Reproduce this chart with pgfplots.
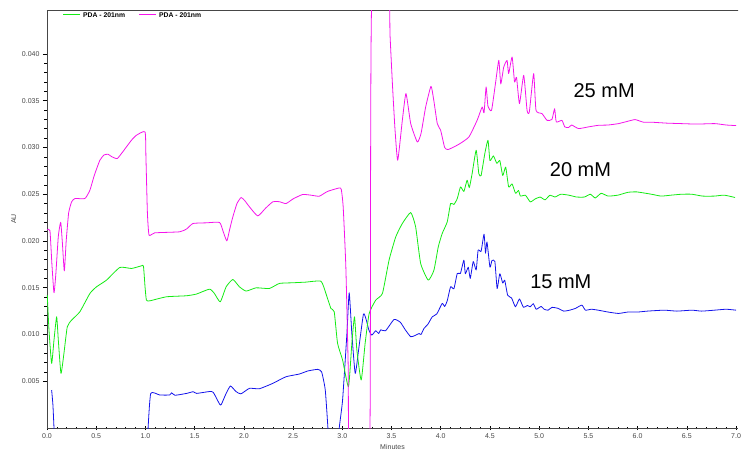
\documentclass[border=0pt]{standalone}
\usepackage{pgfplots}
\pgfplotsset{compat=1.18}
\usepackage{fontspec}
\setmainfont{Liberation Sans}

\definecolor{pdagreen}{RGB}{20,235,20}
\definecolor{pdamag}{RGB}{245,20,235}
\definecolor{pdablue}{RGB}{20,20,235}
\definecolor{axgray}{RGB}{70,70,70}

\begin{document}
\begin{tikzpicture}
\useasboundingbox (-47pt,-23pt) rectangle (698pt,428pt);
\begin{axis}[
    name=ax,
    scale only axis,
    width=691pt, height=418pt,
    at={(0,0)}, anchor=south west,
    xmin=0, xmax=7.02, ymin=0, ymax=0.0447,
    axis x line*=bottom, axis y line*=left,
    axis line style={axgray, line width=0.8pt},
    xtick={0,0.5,...,7}, ytick={0.005,0.010,...,0.0401},
    minor x tick num=4, minor y tick num=4,
    xtick align=center, ytick align=outside,
    major tick length=4pt, minor tick length=2.5pt,
    every tick/.style={black, line width=0.6pt},
    scaled y ticks=false,
    xticklabel style={/pgf/number format/.cd, fixed, fixed zerofill, precision=1},
    yticklabel style={/pgf/number format/.cd, fixed, fixed zerofill, precision=3},
    /pgf/number format/assume math mode=true,
    tick label style={font=\fontsize{7}{8}\selectfont, text=axgray},
    xlabel={Minutes}, ylabel={AU},
    label style={font=\fontsize{7}{8}\selectfont, text=axgray},
    xlabel style={yshift=1pt},
    ylabel style={yshift=-1pt},
    clip=true,
    line join=round,
    every axis plot/.append style={line width=0.8pt, smooth, tension=0.3},
]
\draw[axgray, line width=0.8pt] (rel axis cs:0,1) -- (rel axis cs:1.01,1);

% 15 mM
\addplot[pdablue] coordinates {
(0.047,0.00406) (0.06,0.0025) (0.071,0.0) (0.08,-0.003) (1.015,-0.003) (1.027,0.0)
(1.054,0.0037) (1.145,0.00353) (1.246,0.00353) (1.266,0.00377) (1.30,0.0035)
(1.418,0.0037) (1.485,0.00388) (1.52,0.0037) (1.65,0.0039) (1.69,0.0038)
(1.753,0.00256) (1.77,0.0025) (1.82,0.0037) (1.864,0.00449) (1.92,0.0039)
(1.97,0.00365) (2.057,0.00424) (2.158,0.0042) (2.293,0.00477) (2.428,0.00548)
(2.563,0.00577) (2.65,0.0061) (2.749,0.00627) (2.79,0.0060) (2.827,0.00406)
(2.854,0.0) (2.87,-0.003) (2.955,-0.003) (2.969,0.0) (3.003,0.003) (3.047,0.01012)
(3.07,0.01446) (3.097,0.0101) (3.131,0.00584) (3.165,0.0083) (3.215,0.01218)
(3.245,0.0115) (3.27,0.01047) (3.30,0.00994) (3.34,0.0104) (3.37,0.0101) (3.39,0.0105)
(3.44,0.0104) (3.526,0.01161) (3.59,0.0113) (3.64,0.0105) (3.695,0.00976)
(3.74,0.0099) (3.78,0.0101) (3.80,0.0100) (3.83,0.01065) (3.87,0.0111) (3.914,0.01189)
(3.96,0.0122) (4.015,0.01332) (4.04,0.0130) (4.066,0.0136)
(4.1,0.0151) (4.134,0.0149) (4.168,0.01653) (4.2,0.01653) (4.235,0.01795)
(4.25,0.0165) (4.28,0.0172) (4.30,0.0160) (4.33,0.0178) (4.36,0.0169)
(4.38,0.01902) (4.41,0.0189) (4.44,0.02073) (4.455,0.0187) (4.47,0.0199)
(4.50,0.0172) (4.52,0.0179) (4.55,0.0178) (4.573,0.01492) (4.60,0.0165)
(4.63,0.0155) (4.65,0.0158) (4.68,0.0142) (4.72,0.0139) (4.759,0.01296)
(4.80,0.0138) (4.84,0.0129) (4.88,0.0131) (4.91,0.01296) (4.94,0.0133) (4.97,0.0127)
(5.02,0.0130) (5.05,0.0127) (5.09,0.0126) (5.13,0.0129) (5.19,0.0128) (5.25,0.0125)
(5.31,0.0126) (5.37,0.0128) (5.434,0.01314) (5.47,0.0126) (5.53,0.0127)
(5.60,0.0126) (5.70,0.0124) (5.806,0.01225) (5.90,0.0124) (6.0,0.0124)
(6.1,0.0125) (6.27,0.0126) (6.4,0.0125) (6.55,0.0126) (6.65,0.0125)
(6.78,0.0126) (6.9,0.0127) (7.0,0.0126)
};

% 20 mM
\addplot[pdagreen] coordinates {
(0.003,0.01421) (0.02,0.0105) (0.047,0.00691) (0.071,0.0094) (0.098,0.01189)
(0.115,0.0094) (0.142,0.00584) (0.172,0.00798) (0.206,0.01082) (0.25,0.01154)
(0.334,0.01243) (0.436,0.01439) (0.503,0.0151) (0.604,0.01581) (0.740,0.01717)
(0.858,0.01706) (0.959,0.01734) (0.98,0.0173) (0.996,0.0151) (1.01,0.01368)
(1.044,0.0136) (1.213,0.01403) (1.415,0.01414) (1.517,0.01432) (1.651,0.01485)
(1.70,0.0144) (1.760,0.01349) (1.82,0.0151) (1.888,0.01588) (1.955,0.0151)
(2.023,0.01464) (2.124,0.01499) (2.259,0.01492) (2.361,0.01546) (2.496,0.01553)
(2.63,0.0156) (2.783,0.0157) (2.833,0.0144) (2.884,0.01279) (2.918,0.01243)
(2.952,0.00905) (3.003,0.00727) (3.063,0.00441) (3.097,0.00905) (3.124,0.01189)
(3.148,0.00833) (3.192,0.00513) (3.232,0.00905) (3.273,0.01225) (3.34,0.01368)
(3.408,0.0144) (3.475,0.01795) (3.543,0.02044) (3.61,0.02187) (3.695,0.02304)
(3.745,0.02151) (3.796,0.0176) (3.873,0.01581) (3.931,0.01688) (3.975,0.01937)
(4.015,0.0208) (4.066,0.02204) (4.1,0.024) (4.134,0.0239) (4.168,0.02454)
(4.201,0.02578) (4.235,0.0253) (4.268,0.0265) (4.29,0.0257) (4.319,0.02721)
(4.36,0.0297) (4.387,0.0272) (4.41,0.0270) (4.448,0.02935) (4.48,0.03077)
(4.5,0.0286) (4.535,0.0291) (4.57,0.0283) (4.60,0.0286) (4.63,0.0270)
(4.66,0.0279) (4.69,0.02578) (4.725,0.0261) (4.76,0.0251) (4.79,0.0254) (4.81,0.0248)
(4.86,0.0249) (4.91,0.02418) (4.96,0.0245) (5.01,0.0247) (5.06,0.0244) (5.11,0.0249) (5.16,0.0247)
(5.22,0.0250) (5.30,0.0249) (5.38,0.0247) (5.46,0.0247) (5.52,0.0250) (5.57,0.0246)
(5.63,0.0251) (5.70,0.0248) (5.80,0.0249) (5.90,0.0252) (5.99,0.02525)
(6.14,0.0250) (6.24,0.0248) (6.34,0.0249) (6.45,0.0250) (6.55,0.0250) (6.66,0.0248)
(6.78,0.0248) (6.88,0.0249) (6.99,0.02465)
};

% 25 mM
\addplot[pdamag] coordinates {
(0.003,0.0212) (0.03,0.0211) (0.05,0.0175) (0.071,0.01446) (0.09,0.0165)
(0.115,0.0205) (0.139,0.0220) (0.155,0.0200) (0.176,0.0168) (0.195,0.0200)
(0.22,0.0230) (0.25,0.02418) (0.284,0.02454) (0.385,0.02454) (0.436,0.02543)
(0.48,0.0270) (0.537,0.02863) (0.58,0.0292) (0.621,0.02927) (0.66,0.0290)
(0.713,0.02881) (0.76,0.0294) (0.807,0.03006) (0.86,0.0308) (0.908,0.0313)
(0.996,0.03166) (1.005,0.0290) (1.02,0.0230) (1.037,0.02062) (1.094,0.02087)
(1.347,0.02098) (1.42,0.0213) (1.483,0.02187) (1.618,0.02194) (1.753,0.02198)
(1.79,0.0210) (1.827,0.02001) (1.855,0.0212) (1.888,0.02258) (1.93,0.0240)
(1.972,0.02465) (2.01,0.0243) (2.057,0.02365) (2.141,0.02268) (2.22,0.0235)
(2.293,0.02418) (2.36,0.0242) (2.428,0.02400) (2.5,0.0245) (2.597,0.02497)
(2.68,0.0249) (2.766,0.02479) (2.85,0.0253) (2.969,0.02567) (2.99,0.0255)
(3.009,0.02365) (3.036,0.01723) (3.06,0.00655) (3.075,-0.003) (3.27,-0.003)
(3.285,0.01) (3.30,0.046) (3.47,0.046) (3.485,0.042) (3.509,0.03682)
(3.535,0.0320) (3.563,0.02863) (3.61,0.03291) (3.647,0.03576) (3.695,0.03255)
(3.762,0.03059) (3.80,0.0315) (3.847,0.03433) (3.901,0.03654) (3.93,0.0350)
(3.965,0.03255) (3.999,0.03184) (4.04,0.0300) (4.076,0.02978) (4.184,0.03034)
(4.286,0.03112) (4.37,0.03291) (4.421,0.03433) (4.44,0.0337) (4.461,0.03647)
(4.48,0.0344) (4.516,0.03397) (4.556,0.03683) (4.59,0.03932) (4.61,0.0368)
(4.64,0.0386) (4.674,0.0393) (4.69,0.0379) (4.725,0.03967) (4.75,0.0370)
(4.77,0.0375) (4.80,0.03469) (4.843,0.03772) (4.877,0.03397) (4.9,0.0338)
(4.944,0.0379) (4.968,0.03397) (5.029,0.03362) (5.08,0.0329) (5.13,0.0330)
(5.157,0.03415) (5.174,0.03273) (5.231,0.0329) (5.26,0.0322) (5.299,0.03213)
(5.33,0.0324) (5.40,0.03202) (5.50,0.0322) (5.603,0.03237) (5.70,0.0324)
(5.806,0.03255) (5.90,0.0328) (5.975,0.03298) (6.06,0.0327) (6.143,0.0327)
(6.30,0.0326) (6.447,0.03255) (6.6,0.0325) (6.785,0.03255) (6.9,0.0324) (7.0,0.03234)
};

\node[font=\fontsize{20}{22}\selectfont] at (axis cs:5.66,0.0361) {25 mM};
\node[font=\fontsize{20}{22}\selectfont] at (axis cs:5.42,0.0276) {20 mM};
\node[font=\fontsize{20}{22}\selectfont] at (axis cs:5.22,0.0156) {15 mM};
\end{axis}

% legend (keys drawn as coloured rules)
\node[anchor=west, inner sep=0pt, font=\fontsize{6.8}{8}\selectfont\bfseries]
  at ([xshift=16pt,yshift=-5pt]ax.north west)
  {\textcolor{pdagreen}{\rule[2.2pt]{17pt}{1pt}}\hspace{3pt}PDA - 201nm%
   \hspace{14pt}\textcolor{pdamag}{\rule[2.2pt]{17pt}{1pt}}\hspace{3pt}PDA - 201nm};
\end{tikzpicture}
\end{document}
